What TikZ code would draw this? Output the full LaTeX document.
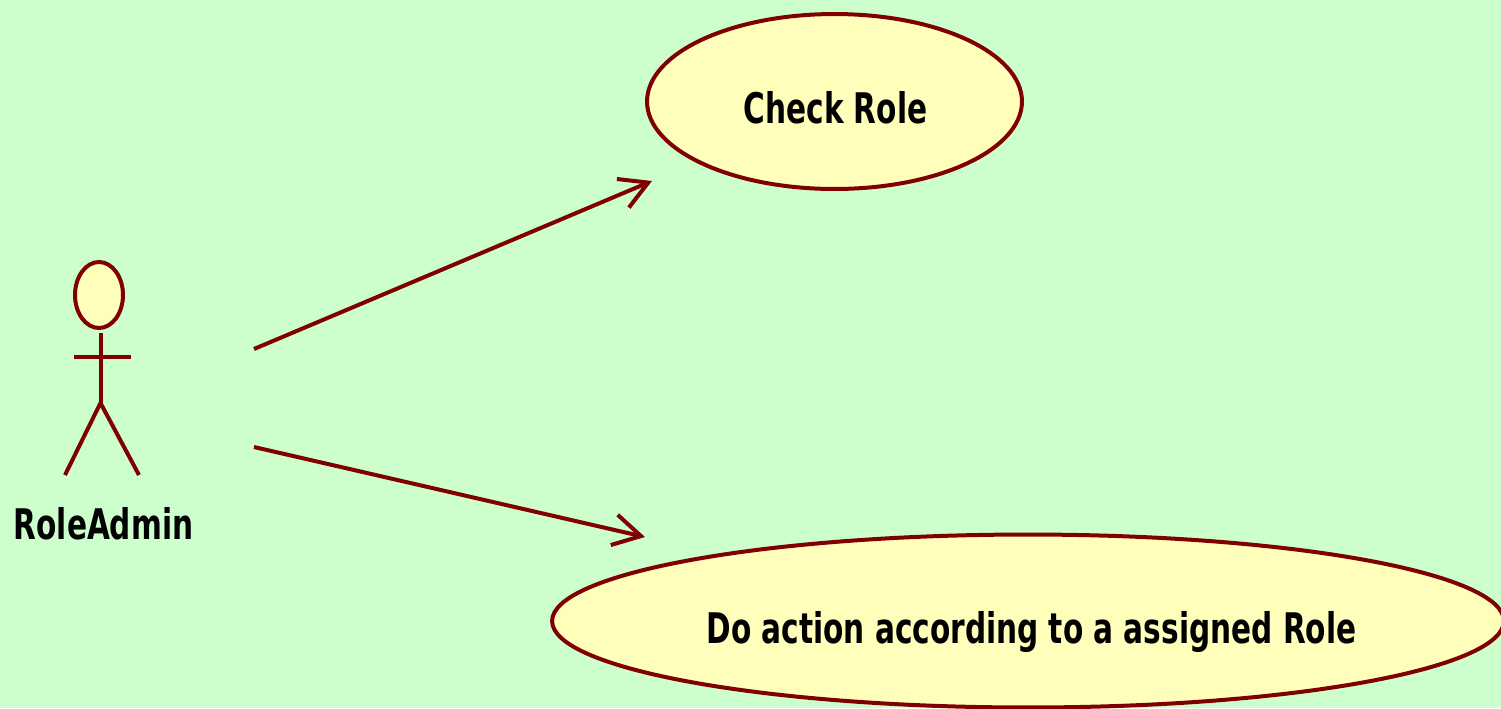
\documentclass[tikz,border=0pt]{standalone}
\usepackage{fontspec}
\setmainfont{DejaVu Sans Condensed}[FakeStretch=0.78]
\usetikzlibrary{positioning}
\usetikzlibrary{arrows.meta}
\usetikzlibrary{shapes.geometric}
\definecolor{umlline}{HTML}{800000}
\definecolor{umlfill}{HTML}{FFFFBB}
\definecolor{umlback}{HTML}{CCFFCC}
\newcommand{\caselabel}[2][0cm]{\makebox[0pt]{\hspace*{#1}\raisebox{-0.44cm}[0pt][0pt]{#2}}}

\begin{document}
\begin{tikzpicture}[
	x=0.02cm, y=-0.02cm,
	usecase/.style={ellipse, draw=umlline, fill=umlfill, line width=0.08cm, inner sep=0pt, font=\fontsize{24}{28}\selectfont\bfseries},
	actorline/.style={draw=umlline, line width=0.08cm},
	assoc/.style={-{Straight Barb[length=0.55cm, width=0.62cm, line width=0.08cm]}, draw=umlline, line width=0.08cm},
	actorlabel/.style={font=\fontsize{24}{28}\selectfont\bfseries},
]
	\fill[umlback] (0,0) rectangle (1501,708);
	\useasboundingbox (0,0) rectangle (1501,708);

	% use cases
	\node[usecase, minimum width=7.5cm, minimum height=3.5cm] (check) at (834.5,101.5) {\caselabel[0.04cm]{Check Role}};
	\node[usecase, minimum width=19.04cm, minimum height=3.46cm] (action) at (1028,621) {\caselabel[0.14cm]{Do action according to a assigned Role}};

	% actor
	\node[ellipse, draw=umlline, fill=umlfill, line width=0.08cm, inner sep=0pt, minimum width=0.96cm, minimum height=1.32cm] (head) at (99,295) {};
	\coordinate (neck) at (100.5,333);
	\coordinate (hip) at (100.5,403);
	\coordinate (armleft) at (74,357);
	\coordinate (armright) at (131,357);
	\coordinate (footleft) at (65,475);
	\coordinate (footright) at (139,475);
	\draw[actorline] (neck) -- (hip);
	\draw[actorline] (armleft) -- (armright);
	\draw[actorline] (footleft) -- (hip) -- (footright);
	\node[actorlabel] (admin) at (103.5,524) {RoleAdmin};

	% associations
	\coordinate (upstart) at (254,349);
	\coordinate (upend) at (652,181);
	\coordinate (downstart) at (254,447);
	\coordinate (downend) at (645,537);
	\draw[assoc] (upstart) -- (upend);
	\draw[assoc] (downstart) -- (downend);
\end{tikzpicture}
\end{document}
